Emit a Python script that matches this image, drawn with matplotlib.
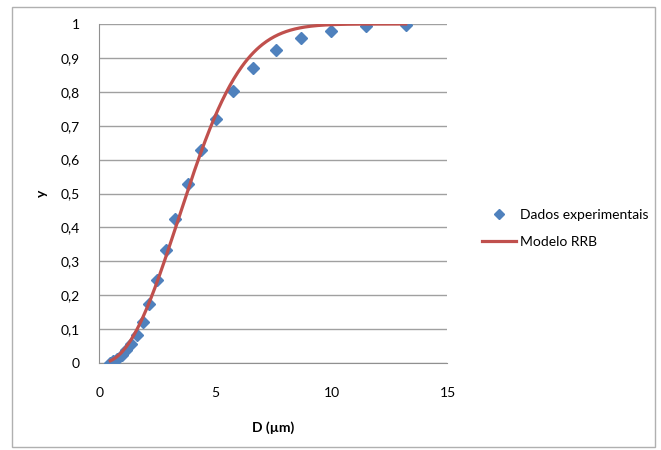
import numpy as np
import matplotlib
matplotlib.use('Agg')
import matplotlib.pyplot as plt
from matplotlib.patches import Rectangle
from matplotlib.ticker import FuncFormatter

D_exp = [0.47, 0.58, 0.76, 0.98, 1.16, 1.34, 1.63, 1.89, 2.14, 2.49, 2.87, 3.27,
         3.80, 4.36, 5.01, 5.76, 6.61, 7.59, 8.70, 10.0, 11.49, 13.2]
y_exp = [0.0, 0.006, 0.013, 0.024, 0.038, 0.055, 0.082, 0.121, 0.175, 0.246, 0.332, 0.425,
         0.527, 0.627, 0.721, 0.803, 0.871, 0.923, 0.958, 0.980, 0.994, 0.998]

# Rosin-Rammler-Bennet model parameters (fitted by eye)
D_bar = 4.43
n_rrb = 2.24
D_min, D_max = 0.47, 13.2

D_mod = np.linspace(D_min, D_max, 300)
y_mod = 1 - np.exp(-(D_mod / D_bar) ** n_rrb)

plt.rcParams['font.family'] = ['Lato', 'DejaVu Sans']

fig = plt.figure(figsize=(6.61, 4.5), dpi=100)
fig.patches.append(Rectangle((12 / 661, 3 / 450), 643 / 661, 440 / 450, transform=fig.transFigure,
                             fill=False, edgecolor='#b0b0b0', linewidth=1))
ax = fig.add_axes([0.1505, 0.1933, 0.5265, 0.7534])

ax.plot(D_exp, y_exp, 'D', color='#4F81BD', markersize=6, label='Dados experimentais', zorder=3)
ax.plot(D_mod, y_mod, color='#C0504D', linewidth=2.3, label='Modelo RRB', zorder=4)

ax.set_xlim(0, 15)
ax.set_ylim(0, 1)
ax.set_xticks([0, 5, 10, 15])
ax.set_yticks(np.arange(0, 1.01, 0.1))
ax.yaxis.set_major_formatter(FuncFormatter(lambda v, p: '%d' % round(v) if round(v, 3) in (0, 1) else ('%.1f' % v).replace('.', ',')))
ax.grid(axis='y', color='#a0a0a0', linewidth=1)
ax.set_axisbelow(True)
for s in ['top', 'right']:
    ax.spines[s].set_visible(False)
for s in ['left', 'bottom']:
    ax.spines[s].set_color('#909090')
ax.tick_params(axis='both', length=0, labelsize=10)
ax.tick_params(axis='y', pad=14)
ax.tick_params(axis='x', pad=17)

ax.set_xlabel('D (µm)', fontsize=10, fontweight='bold', labelpad=16)
ax.set_ylabel('y', fontsize=10, fontweight='bold', labelpad=9)

fig.legend(loc='center left', bbox_to_anchor=(0.711, 0.493), frameon=False, fontsize=10,
           handlelength=2.4, handletextpad=0.3, labelspacing=1.1, markerscale=0.8)

fig.savefig('out.png', dpi=100)
